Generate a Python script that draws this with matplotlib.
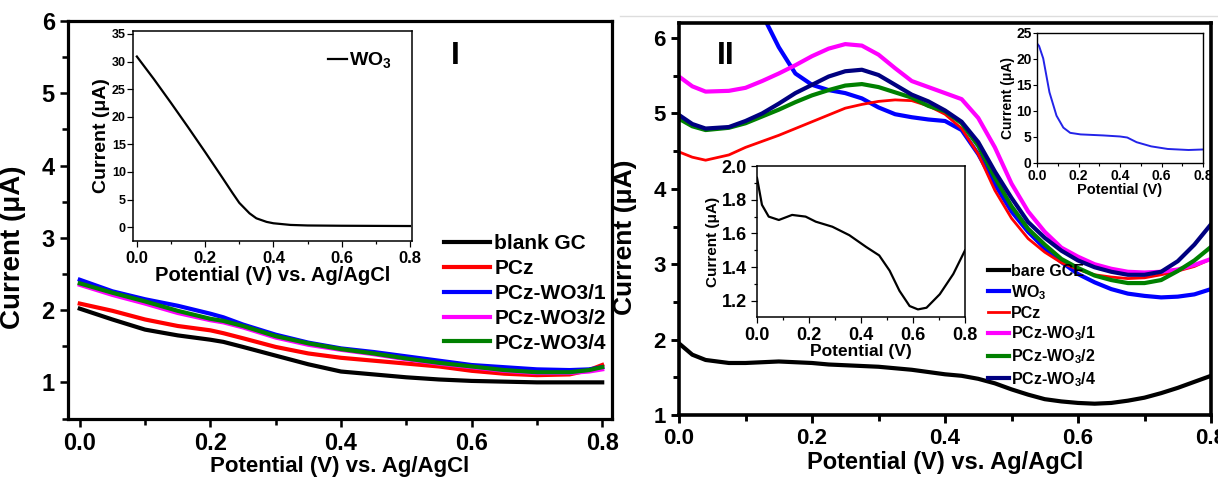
import numpy as np
import matplotlib
matplotlib.use("Agg")
import matplotlib.pyplot as plt
from matplotlib.lines import Line2D
from matplotlib.ticker import MultipleLocator, FormatStrFormatter

plt.rcParams["font.family"] = ["Liberation Sans", "DejaVu Sans"]
plt.rcParams["font.weight"] = "bold"
plt.rcParams["mathtext.fontset"] = "custom"
plt.rcParams["mathtext.rm"] = "Liberation Sans:bold"
plt.rcParams["mathtext.bf"] = "Liberation Sans:bold"

# ---- panel I (left) ----
x_left = [0.0, 0.05, 0.1, 0.15, 0.2, 0.22, 0.25, 0.3, 0.35, 0.4, 0.45, 0.5, 0.55, 0.6, 0.65, 0.7, 0.75, 0.78, 0.8]
blank_gc = [2.02, 1.87, 1.73, 1.65, 1.59, 1.56, 1.49, 1.37, 1.25, 1.15, 1.11, 1.07, 1.04, 1.02, 1.01, 1.0, 1.0, 1.0, 1.0]
pcz_l = [2.09, 1.99, 1.87, 1.78, 1.72, 1.68, 1.61, 1.49, 1.40, 1.34, 1.30, 1.26, 1.22, 1.16, 1.12, 1.10, 1.11, 1.17, 1.24]
pcz_wo3_1_l = [2.42, 2.26, 2.15, 2.06, 1.95, 1.90, 1.80, 1.66, 1.55, 1.47, 1.42, 1.36, 1.30, 1.24, 1.21, 1.18, 1.17, 1.18, 1.21]
pcz_wo3_2_l = [2.35, 2.21, 2.09, 1.96, 1.86, 1.83, 1.76, 1.62, 1.52, 1.45, 1.39, 1.32, 1.26, 1.21, 1.16, 1.13, 1.13, 1.15, 1.18]
pcz_wo3_4_l = [2.37, 2.24, 2.12, 1.99, 1.88, 1.85, 1.78, 1.64, 1.54, 1.46, 1.40, 1.33, 1.27, 1.22, 1.17, 1.14, 1.14, 1.17, 1.21]

x_inset_l = [0.0, 0.05, 0.1, 0.15, 0.2, 0.25, 0.28, 0.3, 0.33, 0.35, 0.38, 0.4, 0.45, 0.5, 0.6, 0.8]
wo3_inset_l = [30.9, 26.8, 22.5, 18.1, 13.6, 9.0, 6.2, 4.4, 2.5, 1.6, 0.95, 0.7, 0.4, 0.3, 0.25, 0.2]

# ---- panel II (right) ----
x_right = [0.0, 0.02, 0.04, 0.075, 0.1, 0.125, 0.15, 0.175, 0.2, 0.225, 0.25, 0.275, 0.3, 0.325,
           0.35, 0.375, 0.4, 0.425, 0.45, 0.475, 0.5, 0.525, 0.55, 0.575, 0.6, 0.625, 0.65,
           0.675, 0.7, 0.725, 0.75, 0.775, 0.8]
bare_gce = [1.95, 1.8, 1.73, 1.69, 1.69, 1.7, 1.71, 1.7, 1.69, 1.67, 1.66, 1.65, 1.64, 1.62,
            1.6, 1.57, 1.54, 1.52, 1.48, 1.42, 1.34, 1.27, 1.21, 1.18, 1.16, 1.15, 1.16,
            1.19, 1.23, 1.29, 1.36, 1.44, 1.52]
wo3_r = [np.nan, np.nan, np.nan, np.nan, 6.9, 6.32, 5.88, 5.53, 5.38, 5.31, 5.27, 5.2, 5.08, 4.99,
         4.95, 4.92, 4.9, 4.78, 4.46, 4.06, 3.7, 3.43, 3.21, 3.03, 2.87, 2.76, 2.67,
         2.61, 2.58, 2.56, 2.57, 2.6, 2.67]
pcz_r = [4.49, 4.42, 4.38, 4.45, 4.55, 4.63, 4.71, 4.8, 4.89, 4.98, 5.07, 5.12, 5.16, 5.18,
         5.17, 5.1, 4.99, 4.8, 4.46, 3.98, 3.61, 3.34, 3.16, 3.02, 2.93, 2.86, 2.83,
         2.81, 2.82, 2.86, 2.91, 2.97, 3.07]
pcz_wo3_1_r = [5.49, 5.36, 5.29, 5.30, 5.34, 5.43, 5.53, 5.64, 5.76, 5.86, 5.92, 5.90, 5.78, 5.6,
               5.43, 5.35, 5.27, 5.19, 4.94, 4.55, 4.07, 3.70, 3.43, 3.22, 3.1, 3.0, 2.94,
               2.90, 2.89, 2.90, 2.93, 2.99, 3.07]
pcz_wo3_2_r = [4.93, 4.83, 4.78, 4.81, 4.87, 4.96, 5.05, 5.15, 5.24, 5.31, 5.37, 5.39, 5.35, 5.28,
               5.21, 5.1, 5.03, 4.87, 4.57, 4.15, 3.77, 3.47, 3.26, 3.07, 2.95, 2.85, 2.79,
               2.75, 2.75, 2.79, 2.91, 3.05, 3.23]
pcz_wo3_4_r = [4.98, 4.86, 4.80, 4.82, 4.9, 5.0, 5.13, 5.27, 5.38, 5.49, 5.56, 5.58, 5.51, 5.38,
               5.25, 5.16, 5.04, 4.89, 4.62, 4.23, 3.88, 3.56, 3.35, 3.18, 3.05, 2.96, 2.9,
               2.86, 2.86, 2.9, 3.04, 3.26, 3.53]

x_inset_blue = [0.0, 0.01, 0.03, 0.06, 0.094, 0.127, 0.16, 0.21, 0.32, 0.4, 0.435, 0.48, 0.55, 0.63, 0.73, 0.8]
wo3_inset_r = [23.0, 22.5, 20.1, 13.6, 9.1, 6.8, 5.8, 5.5, 5.3, 5.1, 4.9, 4.0, 3.2, 2.7, 2.5, 2.6]

x_inset_black = [0.0, 0.006, 0.019, 0.045, 0.084, 0.135, 0.187, 0.226, 0.29, 0.355, 0.42, 0.47,
                 0.51, 0.548, 0.587, 0.619, 0.652, 0.703, 0.755, 0.8]
gce_inset_r = [1.93, 1.88, 1.77, 1.70, 1.68, 1.71, 1.70, 1.67, 1.64, 1.59, 1.52, 1.47,
               1.38, 1.26, 1.17, 1.15, 1.16, 1.24, 1.36, 1.5]


def style_axes(ax, spine_w, tick_fs, major_len, minor_len):
    for side in ("top", "right", "left", "bottom"):
        ax.spines[side].set_linewidth(spine_w)
    ax.tick_params(which="both", direction="out", top=False, right=False, width=spine_w * 0.8)
    ax.tick_params(which="major", length=major_len, labelsize=tick_fs)
    ax.tick_params(which="minor", length=minor_len)
    for lab in ax.get_xticklabels() + ax.get_yticklabels():
        lab.set_fontweight("bold")


fig = plt.figure(figsize=(12.18, 4.79), dpi=100)

# ---------------- panel I ----------------
ax1 = fig.add_axes([68 / 1218, 1 - 418.5 / 479, 544 / 1218, 397.5 / 479])
ax1.plot(x_left, blank_gc, color="black", lw=3, label="blank GC")
ax1.plot(x_left, pcz_l, color="#ff0000", lw=3, label="PCz")
ax1.plot(x_left, pcz_wo3_1_l, color="#0000ff", lw=3, label="PCz-WO3/1")
ax1.plot(x_left, pcz_wo3_2_l, color="#ff00ff", lw=3, label="PCz-WO3/2")
ax1.plot(x_left, pcz_wo3_4_l, color="#008000", lw=3, label="PCz-WO3/4")
ax1.set_xlim(-0.018, 0.815)
ax1.set_ylim(0.5, 6)
ax1.xaxis.set_major_locator(MultipleLocator(0.2))
ax1.xaxis.set_minor_locator(MultipleLocator(0.1))
ax1.yaxis.set_major_locator(MultipleLocator(1))
ax1.yaxis.set_minor_locator(MultipleLocator(0.5))
ax1.xaxis.set_major_formatter(FormatStrFormatter("%.1f"))
style_axes(ax1, 2.3, 17, 6, 4)
ax1.set_xlabel("Potential (V) vs. Ag/AgCl", fontsize=16, fontweight="bold", labelpad=1)
ax1.set_ylabel("Current (μA)", fontsize=20, fontweight="bold")
ax1.yaxis.set_label_coords(-0.077, 0.43)
ax1.legend(loc="upper left", bbox_to_anchor=(434 / 1218, 1 - 224 / 479),
           bbox_transform=fig.transFigure, frameon=False,
           handlelength=2.2, handletextpad=0.2, labelspacing=0.28, borderpad=0,
           prop={"weight": "bold", "size": 15})
fig.text(455 / 1218, 1 - 56 / 479, "I", fontsize=23, fontweight="bold", ha="center", va="center")

ins1 = fig.add_axes([0.109, 0.497, 0.229, 0.438])
ins1.plot(x_inset_l, wo3_inset_l, color="black", lw=1.6, label="WO$_3$")
ins1.set_xlim(-0.012, 0.805)
ins1.set_ylim(-2.5, 35.5)
ins1.xaxis.set_major_locator(MultipleLocator(0.2))
ins1.xaxis.set_minor_locator(MultipleLocator(0.1))
ins1.yaxis.set_major_locator(MultipleLocator(5))
ins1.xaxis.set_major_formatter(FormatStrFormatter("%.1f"))
style_axes(ins1, 1.1, 12, 4, 2.5)
ins1.tick_params(axis="y", labelsize=9, pad=1)
ins1.set_xlabel("Potential (V) vs. Ag/AgCl", fontsize=14.5, fontweight="bold", labelpad=0)
ins1.set_ylabel("Current (μA)", fontsize=14, fontweight="bold", labelpad=1)
ins1.legend(loc="upper right", frameon=False, handlelength=1.0, handletextpad=0.1,
            borderaxespad=0.6, prop={"weight": "bold", "size": 14})

# ---------------- panel II ----------------
ax2 = fig.add_axes([679 / 1218, 1 - 415 / 479, 532 / 1218, 392 / 479])
ax2.plot(x_right, bare_gce, color="black", lw=3, label="bare GCE")
ax2.plot(x_right, wo3_r, color="#0000ff", lw=3, label="WO$_3$")
ax2.plot(x_right, pcz_r, color="#ff0000", lw=2, label="PCz")
ax2.plot(x_right, pcz_wo3_1_r, color="#ff00ff", lw=3, label="PCz-WO$_3$/1")
ax2.plot(x_right, pcz_wo3_2_r, color="#008000", lw=3, label="PCz-WO$_3$/2")
ax2.plot(x_right, pcz_wo3_4_r, color="#000080", lw=3, label="PCz-WO$_3$/4")
ax2.set_xlim(0, 0.8)
ax2.set_ylim(1, 6.2)
ax2.xaxis.set_major_locator(MultipleLocator(0.2))
ax2.xaxis.set_minor_locator(MultipleLocator(0.1))
ax2.yaxis.set_major_locator(MultipleLocator(1))
ax2.yaxis.set_minor_locator(MultipleLocator(0.5))
ax2.xaxis.set_major_formatter(FormatStrFormatter("%.1f"))
style_axes(ax2, 2.6, 16, 6, 4)
ax2.set_xlabel("Potential (V) vs. Ag/AgCl", fontsize=17, fontweight="bold", labelpad=1)
ax2.set_ylabel("Current (μA)", fontsize=19, fontweight="bold")
ax2.yaxis.set_label_coords(-0.079, 0.454)
leg2 = ax2.legend(loc="upper left", bbox_to_anchor=(980 / 1218, 1 - 256 / 479),
                  bbox_transform=fig.transFigure, frameon=False,
                  handlelength=1.3, handletextpad=0.15, labelspacing=0.25, borderpad=0,
                  prop={"weight": "bold", "size": 11.5})
leg2.set_zorder(10)
fig.text(726 / 1218, 1 - 56 / 479, "II", fontsize=23, fontweight="bold", ha="center", va="center")

ins2 = fig.add_axes([757 / 1218, 1 - 317 / 479, 208 / 1218, 151 / 479])
ins2.plot(x_inset_black, gce_inset_r, color="black", lw=1.6)
ins2.set_xlim(0, 0.8)
ins2.set_ylim(1.105, 2.0)
ins2.xaxis.set_major_locator(MultipleLocator(0.2))
ins2.xaxis.set_minor_locator(MultipleLocator(0.1))
ins2.yaxis.set_major_locator(MultipleLocator(0.2))
ins2.yaxis.set_minor_locator(MultipleLocator(0.1))
ins2.xaxis.set_major_formatter(FormatStrFormatter("%.1f"))
ins2.yaxis.set_major_formatter(FormatStrFormatter("%.1f"))
style_axes(ins2, 1.1, 13, 4, 2.5)
ins2.set_xlabel("Potential (V)", fontsize=12.5, fontweight="bold", labelpad=0)
ins2.set_ylabel("Current (μA)", fontsize=11, fontweight="bold", labelpad=1)

ins3 = fig.add_axes([1037 / 1218, 1 - 163 / 479, 166 / 1218, 130 / 479])
ins3.plot(x_inset_blue, wo3_inset_r, color="#2323e8", lw=1.4)
ins3.set_xlim(0, 0.8)
ins3.set_ylim(0, 25)
ins3.xaxis.set_major_locator(MultipleLocator(0.2))
ins3.xaxis.set_minor_locator(MultipleLocator(0.1))
ins3.yaxis.set_major_locator(MultipleLocator(5))
ins3.xaxis.set_major_formatter(FormatStrFormatter("%.1f"))
style_axes(ins3, 1.0, 10, 3, 2)
ins3.tick_params(pad=1)
ins3.set_xlabel("Potential (V)", fontsize=10.5, fontweight="bold", labelpad=0)
ins3.set_ylabel("Current (μA)", fontsize=10, fontweight="bold", labelpad=1)

fig.add_artist(Line2D([620 / 1218, 1.0], [1 - 16 / 479, 1 - 16 / 479], color="#dddddd", lw=1))

fig.savefig("out.png", dpi=100)
